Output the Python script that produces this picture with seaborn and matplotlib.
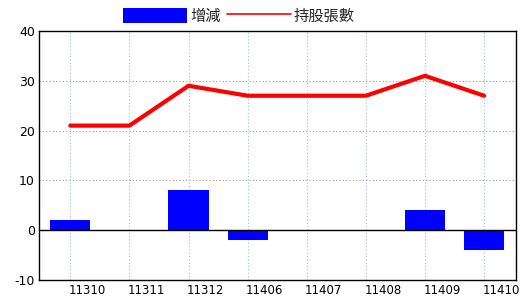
import matplotlib
matplotlib.use("Agg")
import matplotlib.pyplot as plt
import matplotlib.transforms as mtransforms
from matplotlib.patches import Patch
from matplotlib.lines import Line2D
import numpy as np
import pandas as pd
import seaborn as sns

months = ["11310", "11311", "11312", "11406", "11407", "11408", "11409", "11410"]
change = [2, 0, 8, -2, 0, 0, 4, -4]
holdings = [21, 21, 29, 27, 27, 27, 31, 27]
yticks = [-10, 0, 10, 20, 30, 40]

sns.set_theme(style="white")
plt.rcParams['font.family'] = ['Noto Sans CJK TC', 'DejaVu Sans']

df = pd.DataFrame({"month": months, "change": change, "holdings": holdings,
                   "pos": np.arange(len(months))})

fig = plt.figure(figsize=(5.2, 3.0), dpi=100)
ax = fig.add_axes([39/520, 1-280/300, (516-39)/520, (280-31)/300])

# grids
for p in df["pos"]:
    ax.axvline(p, color="#a9bccd", lw=0.8, ls=(0, (1, 2)), zorder=0)
for v in [10, 20, 30]:
    ax.axhline(v, color="#999999", lw=0.8, ls=(0, (1, 2)), zorder=0)

sns.barplot(data=df, x="month", y="change", color="#0000ff", saturation=1,
            width=0.68, ax=ax, zorder=2, edgecolor="none", linewidth=0)
ax.axhline(0, color="black", lw=1.0, zorder=3)
sns.lineplot(x=df["pos"], y=df["holdings"], color="#ff0000", lw=3.0, ax=ax,
             zorder=4, solid_capstyle="round")

ax.set_xlim(-0.53, 7.54)
ax.set_ylim(-10, 40)
ax.set_yticks(yticks)
ax.set_yticklabels([str(t) for t in yticks], fontsize=9, family="DejaVu Sans")
ax.set_xticks(df["pos"])
ax.set_xticklabels(months, fontsize=8.5, family="DejaVu Sans")
ax.tick_params(axis="both", length=0, pad=3, colors="black")
offset = mtransforms.ScaledTranslation(17/100, 0, fig.dpi_scale_trans)
for lab in ax.get_xticklabels():
    lab.set_transform(lab.get_transform() + offset)
ax.set_xlabel("")
ax.set_ylabel("")
for s in ax.spines.values():
    s.set_color("black")
    s.set_linewidth(1.0)

handles = [Patch(facecolor="#0000ff", edgecolor="none", label="增減"),
           Line2D([0], [0], color="#ff0000", lw=1.2, label="持股張數")]
fig.legend(handles=handles, loc="center", bbox_to_anchor=(239/520, 1-16/300),
           ncol=2, frameon=False, fontsize=11, handlelength=4.2, handleheight=1.1,
           handletextpad=0.2, columnspacing=0.4, borderaxespad=0, borderpad=0)

fig.savefig("out.png", dpi=100)
